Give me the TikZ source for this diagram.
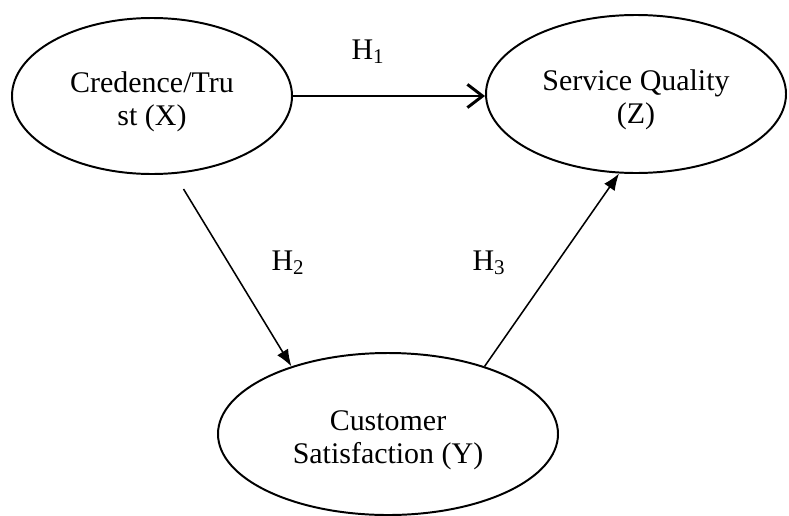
\documentclass[tikz,border=0pt]{standalone}
\usepackage{fontspec}
\setmainfont{Liberation Serif}
\usetikzlibrary{shapes.geometric,arrows.meta}
\newcommand{\cname}[2]{\begin{tabular}{@{}c@{}}\rule{0pt}{25pt}#1\\#2\end{tabular}}
\tikzset{
  construct/.style={ellipse,draw,line width=1.4pt,inner sep=0pt,
    font=\fontsize{21.3}{23.5}\selectfont},
  hyp/.style={font=\fontsize{21.3}{24}\selectfont},
  mainpath/.style={line width=2.1pt,-{Straight Barb[length=0.38cm,width=0.58cm]}},
  sidepath/.style={line width=1.1pt,-{Latex[length=0.42cm,width=0.32cm]}}
}

\begin{document}
\begin{tikzpicture}
\useasboundingbox (0,0) rectangle (19.725,-12.875);
% constructs
\node[construct,minimum width=7cm,minimum height=3.9cm] (x) at (3.8,-2.4) {\cname{Credence/Tru}{st (X)}};
\node[construct,minimum width=7.5cm,minimum height=3.95cm] (z) at (15.9,-2.35) {\cname{Service Quality}{(Z)}};
\node[construct,minimum width=8.5cm,minimum height=4.05cm] (y) at (9.7,-10.85) {\cname{Customer}{Satisfaction (Y)}};
% hypotheses
\draw[mainpath] (x.east) -- (x.east -| z.west);
\draw[sidepath,shorten <=0.44cm] (x.-74) -- (y.145);
\draw[sidepath] (y.35) -- (z.-102);
\node[hyp] (h1) at (9.2,-1.3) {H\textsubscript{1}};
\node[hyp] (h2) at (7.2,-6.575) {H\textsubscript{2}};
\node[hyp] (h3) at (12.225,-6.575) {H\textsubscript{3}};
\end{tikzpicture}
\end{document}
